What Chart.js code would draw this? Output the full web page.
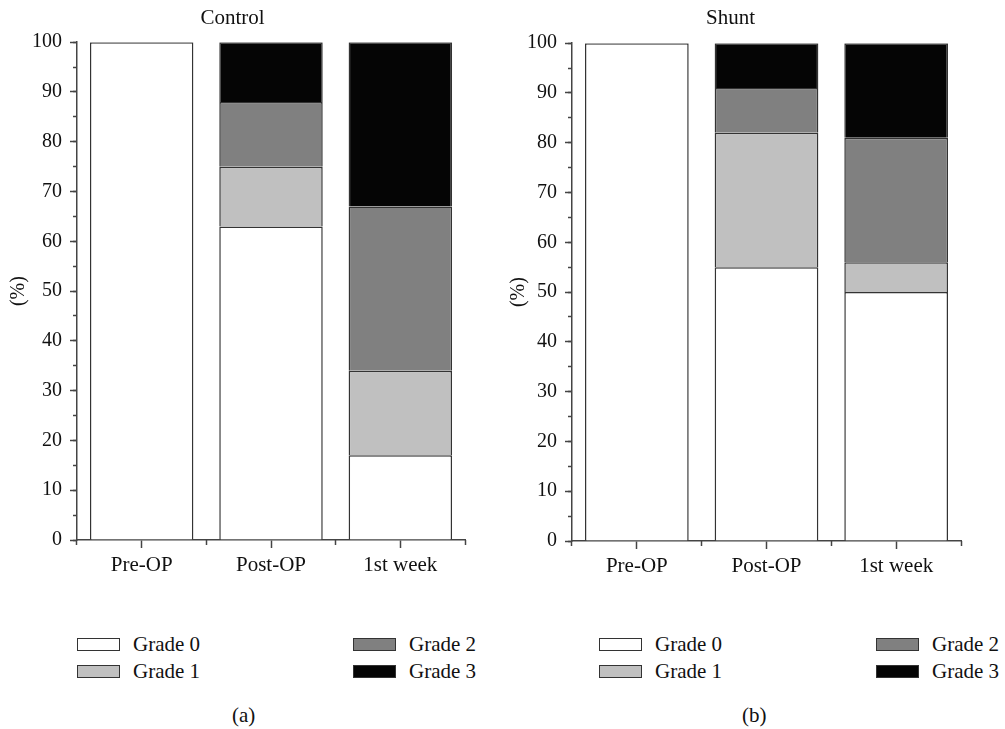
<!DOCTYPE html>
<html>
<head>
<meta charset="utf-8">
<script src="https://cdn.jsdelivr.net/npm/chart.js@4/dist/chart.umd.min.js"></script>
<style>
  body { margin: 0; background: #fff; }
  #wrap { position: relative; width: 1005px; height: 729px; font-family: "Liberation Serif", serif; color: #111; }
  canvas { position: absolute; top: 0; }
  .box { position: absolute; width: 41px; height: 11px; border: 1px solid #333; }
  .lbl { position: absolute; font-size: 21px; line-height: 24px; white-space: nowrap; }
</style>
</head>
<body>
<div id="wrap">
  <canvas id="left" width="500" height="600" style="left:0"></canvas>
  <canvas id="right" width="505" height="600" style="left:500px"></canvas>
</div>
<script>
const categories = ['Pre-OP', 'Post-OP', '1st week'];
const grades = ['Grade 0', 'Grade 1', 'Grade 2', 'Grade 3'];
const gradeColors = ['#ffffff', '#c0c0c0', '#808080', '#050505'];

// Control
const controlGrade0 = [100, 63, 17];
const controlGrade1 = [0, 12, 17];
const controlGrade2 = [0, 13, 33];
const controlGrade3 = [0, 12, 33];

// Shunt
const shuntGrade0 = [100, 55, 50];
const shuntGrade1 = [0, 27, 6];
const shuntGrade2 = [0, 9, 25];
const shuntGrade3 = [0, 9, 19];

const yTicks = [0, 10, 20, 30, 40, 50, 60, 70, 80, 90, 100];

const font = { family: '"Liberation Serif", serif', size: 21, weight: 'normal' };
const tickFont = { family: '"Liberation Serif", serif', size: 20, weight: 'normal' };
const axisColor = '#444';

function makeChart(id, title, series, yWidth, padRight, titleBottom, xHeight) {
  new Chart(document.getElementById(id), {
    type: 'bar',
    data: {
      labels: categories,
      datasets: series.map((d, i) => ({
        label: grades[i],
        data: d,
        backgroundColor: gradeColors[i],
        borderColor: '#333',
        borderWidth: 1.5,
        barPercentage: 0.8,
        categoryPercentage: 1
      }))
    },
    options: {
      responsive: false,
      animation: false,
      devicePixelRatio: 1,
      layout: { padding: { left: 0, right: padRight, top: 0, bottom: 0 } },
      plugins: {
        legend: { display: false },
        tooltip: { enabled: false },
        title: {
          display: true,
          text: title,
          color: '#111',
          font: font,
          padding: { top: 6, bottom: titleBottom }
        }
      },
      scales: {
        x: {
          stacked: true,
          offset: true,
          weight: 1,
          grid: { offset: false, drawOnChartArea: false, tickLength: 8, tickColor: axisColor, tickWidth: 1.5 },
          border: { display: true, color: axisColor, width: 1.5 },
          ticks: { color: '#111', font: font, padding: 5 },
          afterFit: s => { s.height = xHeight; }
        },
        x2: {
          type: 'category',
          position: 'bottom',
          offset: true,
          weight: 0,
          grid: { offset: true, drawOnChartArea: false, tickLength: 5, tickColor: axisColor, tickWidth: 1.5 },
          border: { display: false },
          ticks: { display: false },
          afterFit: s => { s.height = 0; }
        },
        y: {
          stacked: true,
          min: 0,
          max: 100,
          weight: 1,
          afterBuildTicks: s => { s.ticks = yTicks.map(v => ({ value: v })); },
          grid: { drawOnChartArea: false, tickLength: 7, tickColor: axisColor, tickWidth: 1.5 },
          border: { display: true, color: axisColor, width: 1.5 },
          ticks: { color: '#111', font: tickFont, padding: 8 },
          title: { display: true, text: '(%)', color: '#111', font: tickFont, padding: { top: 7 } },
          afterFit: s => { s.width = yWidth; }
        },
        y2: {
          position: 'left',
          min: 0,
          max: 100,
          weight: 0,
          ticks: { display: false, stepSize: 5 },
          grid: { drawOnChartArea: false, tickLength: 4, tickColor: axisColor, tickWidth: 1.5 },
          border: { display: false },
          afterFit: s => { s.width = 0; }
        }
      }
    }
  });
}

makeChart('left', 'Control', [controlGrade0, controlGrade1, controlGrade2, controlGrade3], 77, 35, 11, 60);
makeChart('right', 'Shunt', [shuntGrade0, shuntGrade1, shuntGrade2, shuntGrade3], 72, 44, 12, 59);

// legends and captions
const wrap = document.getElementById('wrap');
function add(cls, css, text) {
  const el = document.createElement('div');
  el.className = cls;
  el.style.cssText = css;
  if (text) el.textContent = text;
  wrap.appendChild(el);
}
const legendCols = [[77, 353], [599, 876]];
const rowTops = [638, 665];
legendCols.forEach(cols => {
  grades.forEach((g, i) => {
    const x = cols[Math.floor(i / 2)];
    const y = rowTops[i % 2];
    add('box', `left:${x}px;top:${y}px;background:${gradeColors[i]}`);
    add('lbl', `left:${x + 56}px;top:${y - 6}px`, g);
  });
});
add('lbl', 'left:232px;top:703px', '(a)');
add('lbl', 'left:742px;top:703px', '(b)');
</script>
</body>
</html>
